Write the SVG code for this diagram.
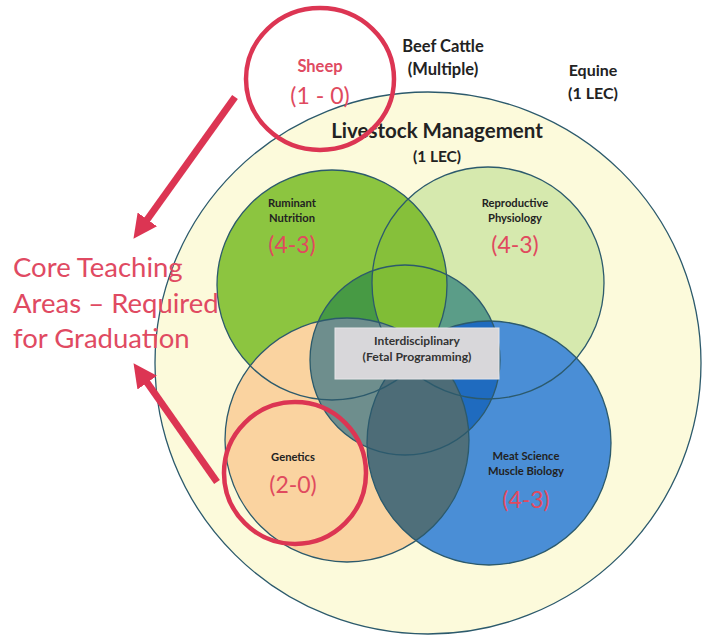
<svg xmlns="http://www.w3.org/2000/svg" width="710" height="637" viewBox="0 0 710 637">
<style>
.lbl{font-family:Lato,"Open Sans","Liberation Sans",sans-serif;font-weight:bold;fill:#222;text-anchor:middle}
.sm{font-size:11.2px}
.num{font-family:Lato,"Open Sans","Liberation Sans",sans-serif;font-size:23px;fill:#e04a5e;text-anchor:middle}
.ol{fill:none;stroke:#2c5a6c;stroke-width:1.3}
.red{fill:none;stroke:#dc3553;stroke-width:4.5}
.arr{stroke:#dc3553;stroke-width:7;fill:none}
</style>
<defs>
<clipPath id="cG"><circle cx="332" cy="285" r="115"/></clipPath>
<clipPath id="cL"><circle cx="488" cy="283" r="116"/></clipPath>
<clipPath id="cO"><circle cx="347" cy="440" r="122"/></clipPath>
<clipPath id="cB"><circle cx="489" cy="443" r="122"/></clipPath>
<clipPath id="cC"><circle cx="405" cy="360" r="95"/></clipPath>
<marker id="ah" viewBox="0 0 10 10" refX="6" refY="5" markerWidth="3.4" markerHeight="3.4" orient="auto" markerUnits="strokeWidth">
<path d="M0,0 L10,5 L0,10 z" fill="#dc3553"/>
</marker>
</defs>
<rect width="710" height="637" fill="#ffffff"/>
<g id="outer">
<ellipse cx="428" cy="363" rx="273" ry="271" fill="#fcfadb" stroke="#2c5a6c" stroke-width="1.3"/>
</g>
<g id="venn-fills">
<circle cx="332" cy="285" r="115" fill="#8cc540"/>
<circle cx="488" cy="283" r="116" fill="#d6e9ae"/>
<g clip-path="url(#cG)"><circle cx="488" cy="283" r="116" fill="#86c03a"/></g>
<circle cx="347" cy="440" r="122" fill="#fad3a0"/>
<circle cx="489" cy="443" r="122" fill="#4a8ed6"/>
<g clip-path="url(#cO)"><circle cx="489" cy="443" r="122" fill="#4f6f7a"/></g>
<g clip-path="url(#cC)">
<g clip-path="url(#cG)"><circle cx="405" cy="360" r="95" fill="#479a44"/></g>
<g clip-path="url(#cL)"><circle cx="405" cy="360" r="95" fill="#5b9d88"/></g>
<g clip-path="url(#cG)"><g clip-path="url(#cL)"><circle cx="405" cy="360" r="95" fill="#80bd36"/></g></g>
<g clip-path="url(#cO)"><circle cx="405" cy="360" r="95" fill="#6e8e8d"/></g>
<g clip-path="url(#cB)"><circle cx="405" cy="360" r="95" fill="#1f6bbf"/></g>
<g clip-path="url(#cO)"><g clip-path="url(#cB)"><circle cx="405" cy="360" r="95" fill="#4d6c77"/></g></g>
</g>
</g>
<g id="ruminant"><circle class="ol" cx="332" cy="285" r="115"/>
<text class="lbl sm" x="292" y="207">Ruminant</text>
<text class="lbl sm" x="292" y="222">Nutrition</text>
<text class="num" x="292" y="253">(4-3)</text></g>
<g id="repro"><circle class="ol" cx="488" cy="283" r="116"/>
<text class="lbl sm" x="515" y="207">Reproductive</text>
<text class="lbl sm" x="515" y="222">Physiology</text>
<text class="num" x="515" y="253">(4-3)</text></g>
<g id="center"><circle class="ol" cx="405" cy="360" r="95"/></g>
<g id="genetics"><circle class="ol" cx="347" cy="440" r="122"/>
<text class="lbl sm" x="293" y="461">Genetics</text>
<text class="num" x="293" y="493">(2-0)</text></g>
<g id="meat"><circle class="ol" cx="489" cy="443" r="122"/>
<text class="lbl sm" x="526" y="460">Meat Science</text>
<text class="lbl sm" x="526" y="475">Muscle Biology</text>
<text class="num" x="526" y="508">(4-3)</text></g>
<g id="interdisciplinary">
<rect x="335" y="328" width="164" height="51" fill="#d8d7da" stroke="#e6e5e8" stroke-width="1"/>
<text class="lbl" x="417" y="345" font-size="12" style="fill:#333">Interdisciplinary</text>
<text class="lbl" x="417" y="361" font-size="12.2" style="fill:#333">(Fetal Programming)</text>
</g>
<g id="livestock">
<text class="lbl" x="437" y="138" font-size="20.5">Livestock Management</text>
<text class="lbl" x="437" y="162" font-size="15.5">(1 LEC)</text>
</g>
<g id="beef">
<text class="lbl" x="443" y="52" font-size="16.5">Beef Cattle</text>
<text class="lbl" x="443" y="75" font-size="16.5">(Multiple)</text>
</g>
<g id="equine">
<text class="lbl" x="593" y="76" font-size="16">Equine</text>
<text class="lbl" x="593" y="99" font-size="16">(1 LEC)</text>
</g>
<g id="sheep">
<ellipse class="red" cx="320" cy="79" rx="74" ry="71"/>
<text class="lbl" x="320" y="72" font-size="16.5" style="fill:#e04a62">Sheep</text>
<text class="num" x="320" y="104">(1 - 0)</text>
</g>
<g id="genetics-mark"><circle class="red" cx="295" cy="473" r="71"/></g>
<g id="core">
<text font-family="Lato,'Open Sans','Liberation Sans',sans-serif" font-size="27.5" fill="#e04a62">
<tspan x="13" y="277">Core Teaching</tspan>
<tspan x="13" y="313">Areas – Required</tspan>
<tspan x="13" y="348">for Graduation</tspan>
</text>
</g>
<g id="connectors">
<line class="arr" x1="235" y1="97" x2="139" y2="231" marker-end="url(#ah)"/>
<line class="arr" x1="217" y1="482" x2="139" y2="371" marker-end="url(#ah)"/>
</g>
</svg>
